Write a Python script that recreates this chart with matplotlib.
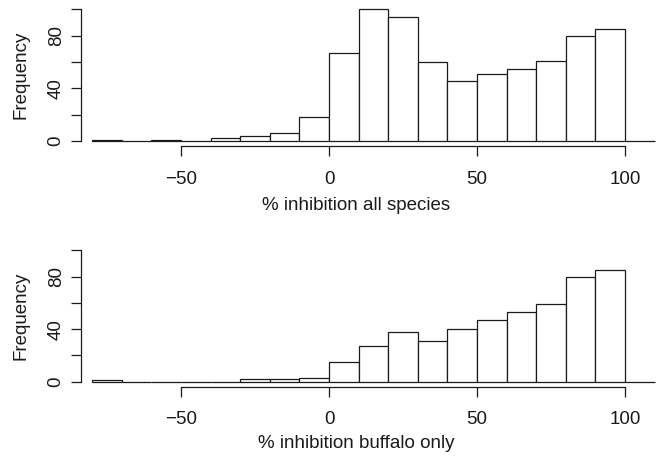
import numpy as np
import matplotlib
matplotlib.use("Agg")
import matplotlib.pyplot as plt

plt.rcParams['font.family'] = ['Liberation Sans', 'DejaVu Sans']

# histogram bins, width 10, from -80 to 110
bin_edges = list(range(-80, 111, 10))
counts_all = [1, 0, 1, 0, 2, 4, 6, 18, 67, 100, 94, 60, 46, 51, 55, 61, 80, 85, 0]
counts_buffalo = [1, 0, 0, 0, 0, 2, 2, 3, 15, 27, 38, 31, 40, 47, 53, 59, 80, 85, 0]
xlabels = ["% inhibition all species", "% inhibition buffalo only"]
xticks = [-50, 0, 50, 100]
yticks = [0, 20, 40, 60, 80, 100]
ytick_labels = ["0", "", "40", "", "80", ""]

W, H = 662, 459
fs = 13.5
fig = plt.figure(figsize=(W / 100, H / 100), dpi=100)

# pixel layout: (top, bottom) of each plot region
panels = [(4.2, 146.3), (245.2, 387.0)]
left_px, right_px = 80.7, 658.0
xlab_y = [205, 444]

for (top, bot), counts, lab, ly in zip(panels, [counts_all, counts_buffalo], xlabels, xlab_y):
    ax = fig.add_axes([left_px / W, 1 - bot / H, (right_px - left_px) / W, (bot - top) / H])
    ax.bar(bin_edges[:-1], counts, width=10, align='edge', color='white',
           edgecolor='#1a1a1a', linewidth=0.9)
    ax.set_xlim(-83.9, 111.15)
    ax.set_ylim(-4, 104)

    for s in ['top', 'right']:
        ax.spines[s].set_visible(False)
    ax.spines['bottom'].set_bounds(-50, 100)
    ax.spines['left'].set_bounds(0, 100)
    for s in ['bottom', 'left']:
        ax.spines[s].set_linewidth(0.9)
        ax.spines[s].set_color('#1a1a1a')

    ax.set_xticks(xticks)
    ax.set_yticks(yticks)
    ax.set_yticklabels(ytick_labels, rotation=90, va='center')
    ax.tick_params(axis='x', direction='out', length=7.5, width=0.9, pad=10,
                   labelsize=fs, colors='#1a1a1a')
    ax.tick_params(axis='y', direction='out', length=7.5, width=0.9, pad=4,
                   labelsize=fs, colors='#1a1a1a')
    ax.set_ylabel("Frequency", fontsize=fs, color='#1a1a1a')
    ax.yaxis.set_label_coords((30 - left_px) / (right_px - left_px), 0.5)

    fig.text(356 / W, 1 - ly / H, lab, ha='center', va='center', fontsize=fs,
             color='#1a1a1a')

fig.savefig("out.png", dpi=100)
